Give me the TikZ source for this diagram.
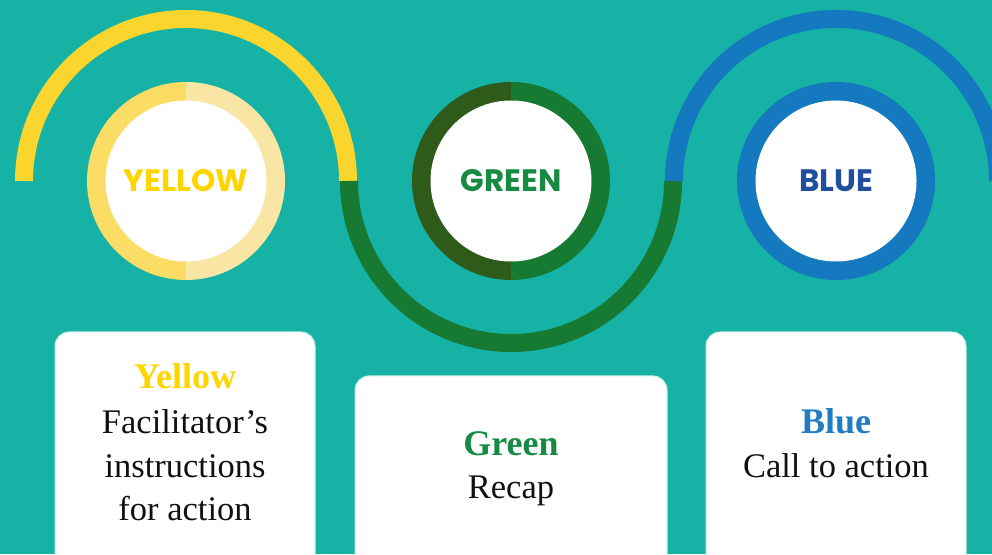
\documentclass[tikz,border=0pt]{standalone}
\usepackage{fontspec}
\setmainfont{Liberation Serif}
\newfontfamily\badgefont{Poppins}
\usetikzlibrary{positioning}

\definecolor{bgteal}{HTML}{15B2A5}
\definecolor{yarc}{HTML}{F9D52D}
\definecolor{yringA}{HTML}{FBDD66}
\definecolor{yringB}{HTML}{F9E6A5}
\definecolor{ytext}{HTML}{FFD500}
\definecolor{garc}{HTML}{177A32}
\definecolor{gringA}{HTML}{2E5B1A}
\definecolor{gtext}{HTML}{178A44}
\definecolor{barc}{HTML}{1479BE}
\definecolor{btext}{HTML}{214FA0}
\definecolor{bword}{HTML}{1F7DC4}
\definecolor{cardedge}{HTML}{C4ECE7}
\definecolor{ink}{HTML}{111111}

\tikzset{
  wave/.style={line width=18pt},
  ring/.style={line width=19pt},
  badge/.style={circle, fill=white, minimum size=161pt, inner sep=0pt,
    font=\badgefont\bfseries\fontsize{31}{31}\selectfont},
  card/.style={fill=white, draw=cardedge, line width=1pt, rounded corners=14pt},
  cardtitle/.style={anchor=base, font=\bfseries\fontsize{36}{36}\selectfont},
  cardtext/.style={anchor=base, text=ink, font=\fontsize{34.5}{34.5}\selectfont},
}

\begin{document}
\begin{tikzpicture}[x=1pt,y=1pt]
\def\xa{186}
\def\xb{511}
\def\xc{836}
\def\yc{373}
\def\rw{162}
\def\rr{89.5}

\clip (0,0) rectangle (992,554);
\fill[bgteal] (0,0) rectangle (992,554);

% the wave
\draw[wave, yarc] (\xa-\rw, \yc) arc (180:0:\rw);
\draw[wave, garc] (\xb-\rw, \yc) arc (180:360:\rw);
\draw[wave, barc] (\xc-\rw, \yc) arc (180:0:\rw);

% rings
\draw[ring, yringA] (\xa,\yc) ++(90:\rr) arc (90:270:\rr);
\draw[ring, yringB] (\xa,\yc) ++(-90:\rr) arc (-90:90:\rr);
\draw[ring, gringA] (\xb,\yc) ++(90:\rr) arc (90:270:\rr);
\draw[ring, garc] (\xb,\yc) ++(-90:\rr) arc (-90:90:\rr);
\draw[ring, barc] (\xc,\yc) circle (\rr);

\node[badge, text=ytext] (yel) at (\xa,\yc) {YELLOW};
\node[badge, text=gtext] (grn) at (\xb,\yc) {GREEN};
\node[badge, text=btext] (blu) at (\xc,\yc) {BLUE};

% cards
\draw[card] (55,222) rectangle (315,-20);
\draw[card] (355,178) rectangle (667,-20);
\draw[card] (706,222) rectangle (966,-20);

\node[cardtitle, text=ytext] (ytitle) at (185,165) {Yellow};
\node[cardtext] (yline1) at (185,121) {Facilitator’s};
\node[cardtext] (yline2) at (185,77) {instructions};
\node[cardtext] (yline3) at (185,34) {for action};

\node[cardtitle, text=gtext] (gtitle) at (511,99) {Green};
\node[cardtext] (gline1) at (511,56) {Recap};

\node[cardtitle, text=bword] (btitle) at (836,121) {Blue};
\node[cardtext] (bline1) at (836,77) {Call to action};

\end{tikzpicture}
\end{document}
